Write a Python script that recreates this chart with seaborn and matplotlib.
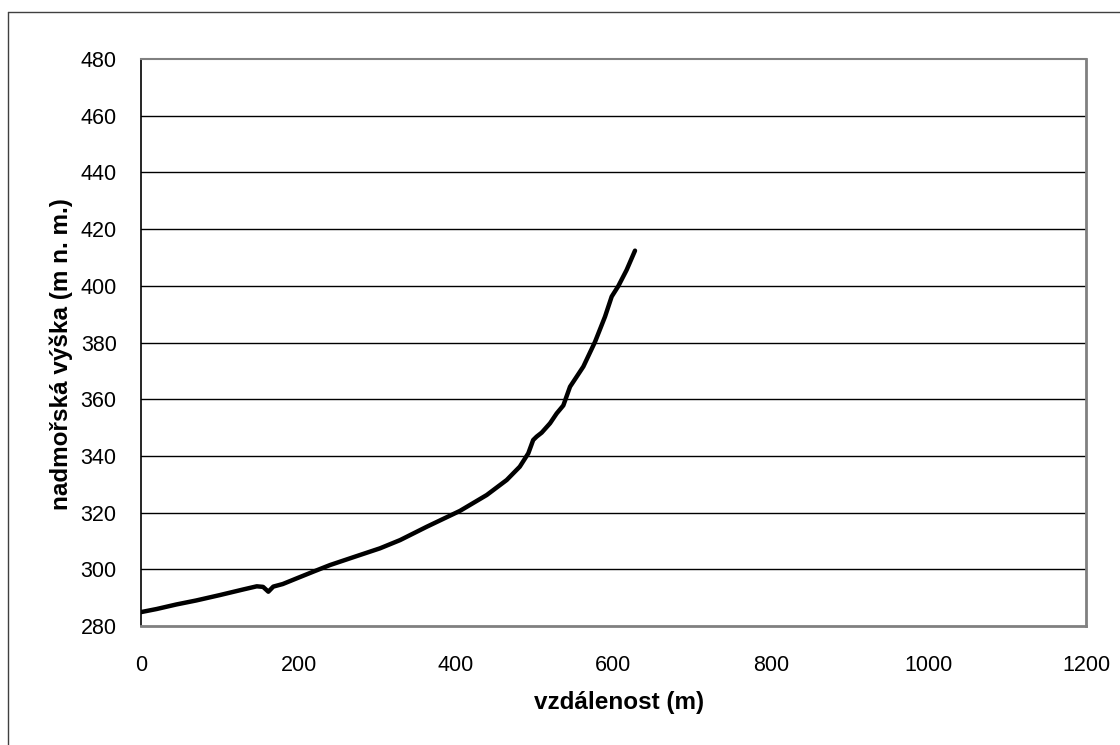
import matplotlib
matplotlib.use("Agg")
import matplotlib.pyplot as plt
import seaborn as sns
import pandas as pd
from matplotlib.lines import Line2D

distance = [0, 20, 45, 70, 100, 130, 147, 155, 161.7, 168, 180, 197.7, 220, 240, 270, 303.5,
            329, 362.8, 405, 439, 464.4, 481, 491.8, 498, 502.4, 508.8, 519.4, 527.9, 536.3,
            544.8, 561.7, 576.5, 589.2, 597.7, 606.1, 616.7, 627.3]
elevation = [284.9, 286.0, 287.6, 289.0, 290.9, 292.9, 294.0, 293.8, 292.1, 293.9, 294.8, 296.8,
             299.3, 301.5, 304.3, 307.4, 310.3, 315.0, 320.6, 326.2, 331.5, 336.2, 340.9, 345.6,
             346.8, 348.2, 351.5, 355.0, 357.8, 364.4, 371.5, 380.2, 389.1, 396.2, 399.9, 405.6, 412.4]

x_ticks = [0, 200, 400, 600, 800, 1000, 1200]
y_ticks = [280, 300, 320, 340, 360, 380, 400, 420, 440, 460, 480]

sns.set_theme(style="white")
plt.rcParams['font.family'] = ['Liberation Sans', 'DejaVu Sans']
plt.rcParams['text.color'] = 'black'
plt.rcParams['axes.labelcolor'] = 'black'
plt.rcParams['xtick.color'] = 'black'
plt.rcParams['ytick.color'] = 'black'

df = pd.DataFrame({"vzdálenost (m)": distance, "nadmořská výška (m n. m.)": elevation})

W, H = 1120, 745
fig = plt.figure(figsize=(W/100, H/100), dpi=100)
fig.patch.set_facecolor("white")
ax = fig.add_axes([141/W, 1 - 626/H, (1086-141)/W, (626-59)/H])

sns.lineplot(data=df, x="vzdálenost (m)", y="nadmořská výška (m n. m.)", ax=ax,
             color="black", linewidth=3.2, sort=False, estimator=None)

ax.set_xlim(0, 1200)
ax.set_ylim(280, 480)
ax.set_xticks(x_ticks)
ax.set_yticks(y_ticks)
ax.set_xticklabels([str(t) for t in x_ticks], fontsize=15.5)
ax.set_yticklabels([str(t) for t in y_ticks], fontsize=15.5)

for yv in y_ticks[1:-1]:
    ax.axhline(yv, color="black", linewidth=1.0, zorder=0)

for side in ["top", "right", "bottom"]:
    ax.spines[side].set_color("#808080")
ax.spines["top"].set_linewidth(1.5)
ax.spines["right"].set_linewidth(2.0)
ax.spines["bottom"].set_linewidth(2.0)
ax.spines["left"].set_color("black")
ax.spines["left"].set_linewidth(1.2)

ax.tick_params(axis="x", direction="out", length=6, width=1.2, color="black", pad=15)
ax.tick_params(axis="y", direction="out", length=6.5, width=1.2, color="black", pad=11)

ax.set_xlabel("vzdálenost (m)", fontsize=17.5, fontweight="bold")
ax.set_ylabel("nadmořská výška (m n. m.)", fontsize=17.5, fontweight="bold")
ax.xaxis.set_label_coords((619 - 141) / (1086 - 141), -(703 - 626) / (626 - 59), transform=ax.transAxes)
ax.xaxis.label.set_va("center")
ax.yaxis.set_label_coords(-(141 - 61) / (1086 - 141), (626 - 354) / (626 - 59), transform=ax.transAxes)
ax.yaxis.label.set_va("center")

border_color = "#404040"
fig.add_artist(Line2D([8/W, 8/W], [0, 1 - 12/H], transform=fig.transFigure,
                      color=border_color, linewidth=1.0))
fig.add_artist(Line2D([8/W, 1], [1 - 12/H, 1 - 12/H], transform=fig.transFigure,
                      color=border_color, linewidth=1.0))

fig.savefig("out.png", dpi=100, facecolor="white")
